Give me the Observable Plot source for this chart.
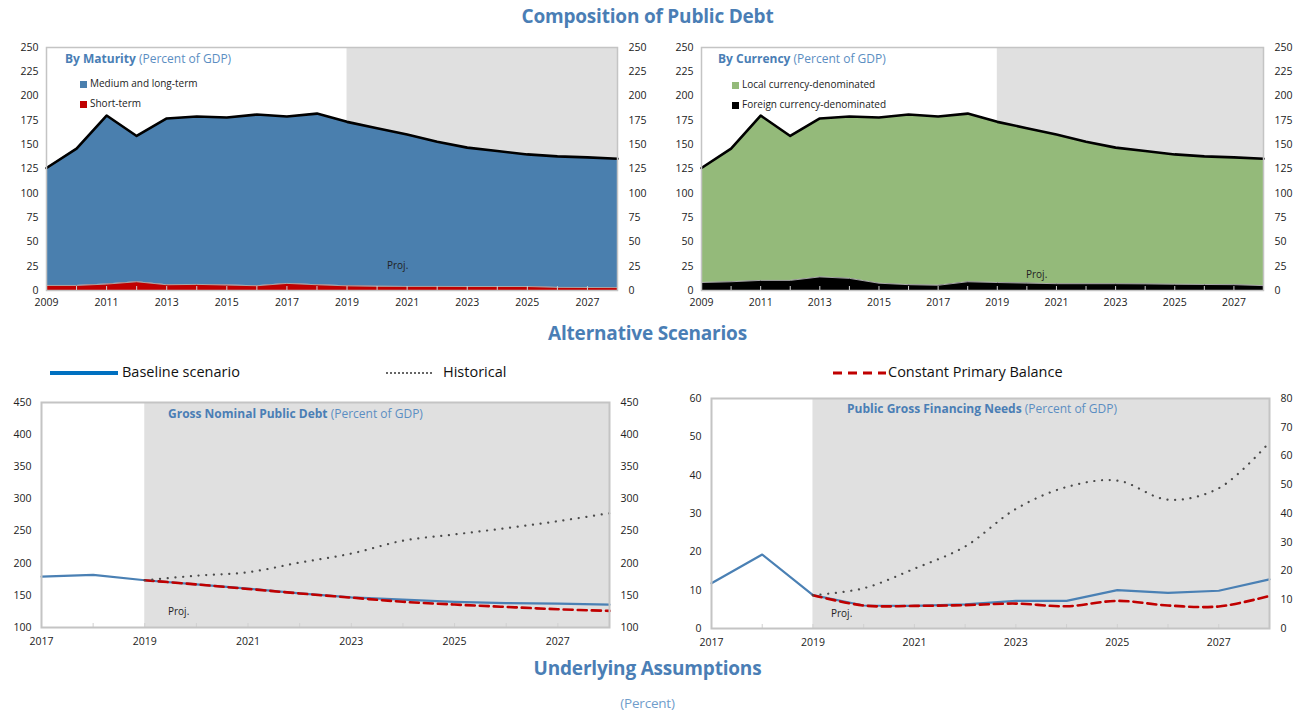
<!DOCTYPE html>
<html>
<head>
<meta charset="utf-8">
<script src="https://cdn.jsdelivr.net/npm/d3@7"></script>
<script src="https://cdn.jsdelivr.net/npm/@observablehq/plot@0.6"></script>
<style>
  html, body { margin: 0; padding: 0; background: #fff; }
  body { font-family: "Open Sans", sans-serif; }
  #root { position: relative; width: 1295px; height: 712px; overflow: hidden; }
  .abs { position: absolute; }
  .h { position: absolute; left: 0; width: 1295px; text-align: center; color: #4A7EB5; font-weight: 700; font-size: 19px; line-height: 24px; letter-spacing: -0.2px; }
  .sub { position: absolute; font-size: 12px; line-height: 14px; color: #5B8EC2; white-space: nowrap; }
  .sub b { color: #4A7EB5; }
  .leg { position: absolute; font-size: 10px; line-height: 12px; color: #222; white-space: nowrap; }
  .leg i { display: inline-block; width: 7px; height: 7px; margin-right: 3px; vertical-align: -0.5px; }
  .proj { position: absolute; font-size: 10px; line-height: 12px; color: #222; }
  .lg2 { position: absolute; font-size: 14.5px; line-height: 16px; color: #111; white-space: nowrap; }
  .lg2 svg { vertical-align: middle; }
</style>
</head>
<body>
<div id="root"></div>
<script>
// ---------------- DATA ----------------
const years = [2009,2010,2011,2012,2013,2014,2015,2016,2017,2018,2019,2020,2021,2022,2023,2024,2025,2026,2027,2028];
const projStart = 2019;
const projEnd = 2028;
const totalDebt   = [126,146,180,159,177,179,178,181,179,182,173.5,167,160.5,153,147,143.5,140,138,137,135.5];
const shortTerm   = [5.2,5.2,6.6,9,5.9,6.3,5.6,4.9,7.3,5.9,4.8,4.3,4.2,4.2,4.1,4.1,4.1,3.2,3.1,3.0];
const medLongTerm = [120.8,140.8,173.4,150,171.1,172.7,172.4,176.1,171.7,176.1,168.7,162.7,156.3,148.8,142.9,139.4,135.9,134.8,133.9,132.5];
const foreignCur  = [8.2,9,10.4,10.4,14,12.5,7.5,6,5.4,9,8.2,7.6,7,7,7,6.8,6.4,6.2,6,5];
const localCur    = [117.8,137,169.6,148.6,163,166.5,170.5,175,173.6,173,165.3,159.4,153.5,146,140,136.7,133.6,131.8,131,130.5];
const compTicksY  = [0,25,50,75,100,125,150,175,200,225,250];
const compTicksX  = [2009,2011,2013,2015,2017,2019,2021,2023,2025,2027];

const scenYears     = [2017,2018,2019,2020,2021,2022,2023,2024,2025,2026,2027,2028];
const projYears     = [2019,2020,2021,2022,2023,2024,2025,2026,2027,2028];
const debtBaseline  = [179,182,173.5,167,160.5,153,147,143.5,140,138,137,135.5];
const debtHistorical= [173.5,180.6,186,201,215,235,244.8,254.6,265.4,277.8];
const debtCPB       = [173.5,167,160,153,146.5,140,135.7,132,128.4,125.8];
const gfnBaseline   = [11.8,19.3,8.7,6.0,5.9,6.3,7.2,7.2,10.0,9.3,9.85,12.8];
const gfnHistorical = [8.7,10.5,15.6,21.4,31.2,36.9,38.6,33.6,36.6,48.6];
const gfnCPB        = [8.7,6.0,5.9,6.1,6.5,5.8,7.2,6.0,5.75,8.5];
const debtTicksY    = [100,150,200,250,300,350,400,450];
const gfnTicksY     = [0,10,20,30,40,50,60];
const gfnTicksRight = [0,10,20,30,40,50,60,70,80];
const scenTicksX    = [2017,2019,2021,2023,2025,2027];

const C = {
  blue: "#4A7FAE", red: "#C00000", green: "#94BA7A", black: "#000",
  shade: "#E0E0E0", frame: "#C4C4C4", line: "#4A80B4", hist: "#4a4a4a"
};

// ---------------- HELPERS ----------------
const root = document.getElementById("root");
function place(el, left, top) {
  const d = document.createElement("div");
  d.className = "abs"; d.style.left = left + "px"; d.style.top = top + "px";
  d.appendChild(el); root.appendChild(d);
}
function html(cls, left, top, inner, extra) {
  const d = document.createElement("div");
  d.className = cls; d.style.left = left + "px"; d.style.top = top + "px";
  if (extra) Object.assign(d.style, extra);
  d.innerHTML = inner; root.appendChild(d);
}
const fmt = d => String(d);
const baseStyle = {fontFamily: "Open Sans, sans-serif", fontSize: "10.5px", color: "#222", background: "transparent", overflow: "visible"};

// ---------------- COMPOSITION PANELS ----------------
function compPanel({width, marginRight, lower, upper, lowerName, upperName, lowerColor, upperColor}) {
  const rows = [];
  years.forEach((y, i) => {
    rows.push({year: y, series: lowerName, value: lower[i]});
    rows.push({year: y, series: upperName, value: upper[i]});
  });
  const height = 280, mt = 12, mb = 25;
  const innerH = height - mt - mb;
  return Plot.plot({
    width, height, marginLeft: 46, marginRight, marginTop: mt, marginBottom: mb,
    style: baseStyle,
    x: {domain: [years[0], years[years.length - 1]]},
    y: {domain: [0, 250]},
    color: {domain: [lowerName, upperName], range: [lowerColor, upperColor]},
    marks: [
      Plot.rect([{a: projStart, b: projEnd}], {x1: "a", x2: "b", fill: C.shade}),
      Plot.areaY(rows, Plot.stackY({x: "year", y: "value", fill: "series", order: [lowerName, upperName]})),
      Plot.lineY(years.map((y, i) => ({year: y, v: lower[i]})), {x: "year", y: "v", stroke: "#a8a8a8", strokeWidth: 1}),
      Plot.lineY(years.map((y, i) => ({year: y, v: totalDebt[i]})), {x: "year", y: "v", stroke: C.black, strokeWidth: 2.6}),
      Plot.tickX(years, {x: d => d, stroke: "#d0d0d0", strokeWidth: 1, insetTop: innerH - 4}),
      Plot.frame({stroke: C.frame, strokeWidth: 1.5}),
      Plot.axisX(compTicksX, {tickSize: 0, tickPadding: 8, tickFormat: fmt, label: null}),
      Plot.axisY(compTicksY, {anchor: "left", tickSize: 0, tickPadding: 8, label: null}),
      Plot.axisY(compTicksY, {anchor: "right", tickSize: 0, tickPadding: 11, label: null})
    ]
  });
}

place(compPanel({width: 660, marginRight: 43, lower: shortTerm, upper: medLongTerm,
  lowerName: "Short-term", upperName: "Medium and long-term", lowerColor: C.red, upperColor: C.blue}), 0, 35);
place(compPanel({width: 640, marginRight: 32, lower: foreignCur, upper: localCur,
  lowerName: "Foreign currency-denominated", upperName: "Local currency-denominated", lowerColor: "#000", upperColor: C.green}), 655, 35);

// ---------------- SCENARIO PANELS ----------------
function scenPanel({width, height, marginLeft, marginRight, marginTop, marginBottom, domainY, ticksY, rightTicks, rightFmt, base, hist, cpb}) {
  const bl = scenYears.map((y, i) => ({year: y, v: base[i]}));
  const hs = projYears.map((y, i) => ({year: y, v: hist[i]}));
  const cp = projYears.map((y, i) => ({year: y, v: cpb[i]}));
  const innerH = height - marginTop - marginBottom;
  return Plot.plot({
    width, height, marginLeft, marginRight, marginTop, marginBottom,
    style: baseStyle,
    x: {domain: [scenYears[0], scenYears[scenYears.length - 1]]},
    y: {domain: domainY},
    marks: [
      Plot.rect([{a: projStart, b: projEnd}], {x1: "a", x2: "b", fill: C.shade}),
      Plot.tickX(scenYears, {x: d => d, stroke: "#d0d0d0", strokeWidth: 1, insetTop: innerH - 4}),
      Plot.lineY(bl, {x: "year", y: "v", stroke: C.line, strokeWidth: 2.2}),
      Plot.lineY(cp, {x: "year", y: "v", stroke: C.red, strokeWidth: 2.6, strokeDasharray: "9 5", curve: "catmull-rom"}),
      Plot.lineY(hs, {x: "year", y: "v", stroke: C.hist, strokeWidth: 2.2, strokeDasharray: "0.1 7.6", strokeLinecap: "round", curve: "catmull-rom"}),
      Plot.frame({stroke: C.frame, strokeWidth: 2}),
      Plot.axisX(scenTicksX, {tickSize: 0, tickPadding: 10, tickFormat: fmt, label: null}),
      Plot.axisY(ticksY, {anchor: "left", tickSize: 0, tickPadding: 10, label: null}),
      Plot.axisY(rightTicks, {anchor: "right", tickSize: 0, tickPadding: 11, tickFormat: rightFmt, label: null})
    ]
  });
}

place(scenPanel({width: 660, height: 265, marginLeft: 41, marginRight: 51, marginTop: 12, marginBottom: 28,
  domainY: [100, 450], ticksY: debtTicksY, rightTicks: debtTicksY, rightFmt: fmt,
  base: debtBaseline, hist: debtHistorical, cpb: debtCPB}), 0, 390);

place(scenPanel({width: 630, height: 270, marginLeft: 46, marginRight: 26, marginTop: 12, marginBottom: 28,
  domainY: [0, 60], ticksY: gfnTicksY, rightTicks: gfnTicksRight.map(v => v * 60 / 80),
  rightFmt: d => String(Math.round(d * 80 / 60)),
  base: gfnBaseline, hist: gfnHistorical, cpb: gfnCPB}), 665, 386);

// ---------------- TEXT OVERLAYS ----------------
html("h", 0, 4, "Composition of Public Debt");
html("h", 0, 321, "Alternative Scenarios");
html("h", 0, 656, "Underlying Assumptions");
html("h", 0, 691, "(Percent)", {fontWeight: 400, fontSize: "13.5px", color: "#6F9DCB"});

html("sub", 65, 52, "<b>By Maturity</b> (Percent of GDP)");
html("sub", 718, 52, "<b>By Currency</b> (Percent of GDP)");
html("leg", 80, 77, `<i style="background:${C.blue}"></i>Medium and long-term`);
html("leg", 80, 97, `<i style="background:${C.red}"></i>Short-term`);
html("leg", 732, 78, `<i style="background:${C.green}"></i>Local currency-denominated`);
html("leg", 732, 98, `<i style="background:#000"></i>Foreign currency-denominated`);
html("proj", 387, 259, "Proj.");
html("proj", 1026, 268, "Proj.");
html("proj", 168, 605, "Proj.");
html("proj", 831, 607, "Proj.");

html("sub", 168, 407, "<b>Gross Nominal Public Debt</b> (Percent of GDP)");
html("sub", 847, 402, "<b>Public Gross Financing Needs</b> (Percent of GDP)");

html("lg2", 50, 364, `<svg width="72" height="8"><line x1="0" y1="4" x2="68" y2="4" stroke="#0070C0" stroke-width="4"/></svg>Baseline scenario`);
html("lg2", 385, 364, `<svg width="58" height="8"><line x1="1" y1="4" x2="48" y2="4" stroke="#666" stroke-width="2" stroke-dasharray="2 2"/></svg>Historical`);
html("lg2", 833, 364, `<svg width="55" height="8"><line x1="0" y1="4" x2="53" y2="4" stroke="${C.red}" stroke-width="3" stroke-dasharray="9 6"/></svg>Constant Primary Balance`);
</script>
</body>
</html>
